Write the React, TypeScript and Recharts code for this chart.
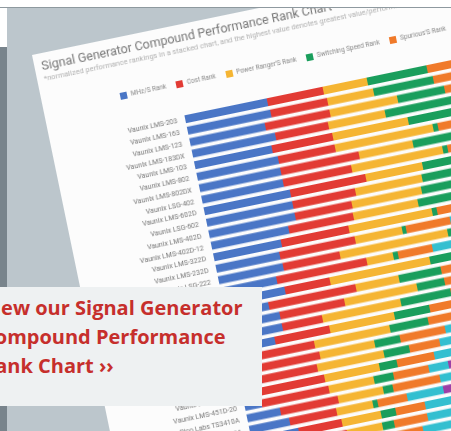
import { BarChart, Bar, XAxis, YAxis, Legend } from 'recharts';

const categories = [
  'Vaunix LMS-203', 'Vaunix LMS-163', 'Vaunix LMS-123', 'Vaunix LMS-183DX',
  'Vaunix LMS-103', 'Vaunix LMS-802', 'Vaunix LMS-802DX', 'Vaunix LSG-402',
  'Vaunix LMS-602D', 'Vaunix LSG-602', 'Vaunix LMS-402D', 'Vaunix LMS-402D-12',
  'Vaunix LMS-322D', 'Vaunix LMS-232D', 'Vaunix LSG-222', 'Vaunix LSG-152',
  'Vaunix LSG-122', 'Vaunix LSG-251', 'Vaunix LSG-451', 'Vaunix LMS-451D',
  'Vaunix LMS-271D', 'Vaunix LMS-163-13', 'Vaunix LMS-103-13', 'Vaunix LMS-123-13',
  'Vaunix LMS-163-20', 'Vaunix LMS-451D-20', 'Pico Labs TS3410A', 'Pico Labs TS3420A',
  'Pico Labs TS3430A', 'Pico Labs TS3440A', 'Pico Labs TS3450A', 'Pico Labs TS3460A',
];

const mhzRank = [8.4, 8.5, 7.7, 8.5, 7.9, 8.3, 8.3, 8.3, 8.8, 8.8, 8.8, 7.9, 6.9, 6.5, 6.6, 5.7, 6.3, 4.4, 5.3, 5.3, 4.3, 2.3, 2.0, 2.2, 1.8, 1.7, 3.4, 4.1, 4.8, 5.5, 4.2, 4.0];
const costRank = [5.7, 5.8, 6.6, 5.4, 6.2, 5.8, 8.0, 7.0, 7.7, 6.4, 5.8, 6.6, 6.9, 7.7, 5.8, 9.2, 4.6, 8.9, 6.6, 4.1, 5.6, 5.8, 6.4, 5.7, 6.6, 6.9, 5.9, 4.8, 4.4, 4.0, 5.0, 4.6];
const powerRank = [4.5, 4.7, 6.9, 5.8, 7.7, 10.0, 5.5, 9.3, 5.8, 6.8, 7.1, 6.6, 8.5, 4.8, 11.0, 2.7, 10.2, 4.4, 7.4, 8.0, 6.6, 7.7, 5.6, 6.8, 5.6, 4.6, 4.6, 3.7, 4.0, 3.6, 3.0, 3.4];
const switchingRank = [6.1, 6.1, 4.8, 7.8, 6.5, 0.5, 5.5, 0.5, 5.5, 5.0, 5.2, 5.0, 0.5, 0.4, 3.0, 0.5, 4.0, 4.3, 2.8, 5.1, 3.6, 3.9, 2.6, 2.6, 1.8, 2.0, 1.0, 0.5, 1.5, 1.2, 2.0, 1.0];
const spuriousRank = [6.0, 5.5, 5.0, 4.0, 4.0, 6.0, 4.0, 5.0, 3.0, 3.0, 3.0, 3.0, 5.0, 4.5, 3.0, 3.5, 3.0, 3.0, 3.0, 3.0, 3.0, 3.3, 4.6, 3.1, 3.8, 3.6, 4.8, 3.0, 3.0, 3.4, 2.8, 3.6];
const phaseRank = [2.8, 3.1, 2.6, 2.9, 3.2, 2.7, 3.0, 2.5, 3.3, 2.9, 3.1, 2.6, 2.8, 3.0, 2.7, 3.2, 2.9, 3.1, 2.6, 2.8, 3.0, 2.7, 2.0, 2.1, 2.0, 2.0, 2.0, 3.7, 3.0, 2.6, 3.2, 2.5];
const sizeRank = [2.2, 2.5, 2.0, 2.4, 2.1, 2.6, 2.3, 2.0, 2.5, 2.2, 2.4, 2.1, 2.6, 2.3, 2.0, 2.4, 2.2, 2.5, 2.1, 2.3, 2.6, 2.0, 2.4, 2.2, 1.5, 1.0, 1.0, 2.0, 2.0, 2.5, 2.8, 3.0];

const series = [
  { key: 'mhz', name: 'MHz/S Rank', color: '#4a76c6' },
  { key: 'cost', name: 'Cost Rank', color: '#e23b34' },
  { key: 'power', name: "Power Ranger'S Rank", color: '#f5b533' },
  { key: 'switching', name: 'Switching Speed Rank', color: '#1a9e5c' },
  { key: 'spurious', name: "Spurious'S Rank", color: '#f07a2a' },
  { key: 'phase', name: 'Phase Noise Rank', color: '#33bfd0' },
  { key: 'size', name: 'Size Rank', color: '#9c3fa6' },
];

const data = categories.map((name, i) => ({
  name,
  mhz: mhzRank[i],
  cost: costRank[i],
  power: powerRank[i],
  switching: switchingRank[i],
  spurious: spuriousRank[i],
  phase: phaseRank[i],
  size: sizeRank[i],
}));

const NameTick = ({ x, y, payload }: any) => (
  <text x={x} y={y} dy={2.5} textAnchor="end" fontSize={7} fill="#777">
    {payload.value}
  </text>
);

export default function App() {
  return (
    <div style={{ position: 'absolute', left: 0, top: 0, width: 451, height: 431, overflow: 'hidden', background: '#fff' }}>
      {/* backdrop panel */}
      <div style={{ position: 'absolute', left: 7, top: 7, width: 444, height: 424, background: '#bcc6cc' }} />
      <div style={{ position: 'absolute', left: 0, top: 47, width: 7, height: 384, background: '#78848c' }} />

      {/* the tilted chart card */}
      <div
        style={{
          position: 'absolute',
          left: 32,
          top: 55,
          width: 640,
          height: 520,
          background: '#fcfcfc',
          transform: 'rotate(-11.7deg)',
          transformOrigin: '0 0',
          fontFamily: 'Roboto, sans-serif',
          filter: 'blur(0.4px)',
        }}
      >
        <div style={{ position: 'absolute', left: 7, top: 6, fontSize: 12.5, lineHeight: '14px', color: '#777', whiteSpace: 'nowrap' }}>
          Signal Generator Compound Performance Rank Chart
        </div>
        <div style={{ position: 'absolute', left: 7, top: 21, fontSize: 7.5, lineHeight: '9px', color: '#b0b0b0', whiteSpace: 'nowrap' }}>
          *normalized performance rankings in a stacked chart, and the highest value denotes greatest value/performance
        </div>
        <div style={{ position: 'absolute', left: 0, top: 0 }}>
          <BarChart
            width={640}
            height={480}
            data={data}
            layout="vertical"
            margin={{ top: 88, right: 3, bottom: 16, left: 7 }}
          >
            <XAxis type="number" hide domain={[0, 50]} />
            <YAxis
              type="category"
              dataKey="name"
              width={130}
              axisLine={false}
              tickLine={false}
              interval={0}
              tick={<NameTick />}
            />
            <Legend
              layout="horizontal"
              align="center"
              verticalAlign="middle"
              iconType="square"
              iconSize={7}
              itemSorter={(item: any) => series.findIndex((s) => s.name === item.value)}
              wrapperStyle={{ top: 53, left: 78, width: 'max-content', fontSize: 6.5, lineHeight: '10px' }}
              formatter={(value) => <span style={{ color: '#888' }}>{value}</span>}
            />
            {series.map((s) => (
              <Bar key={s.key} dataKey={s.key} name={s.name} stackId="rank" fill={s.color} barSize={8} isAnimationActive={false} />
            ))}
          </BarChart>
        </div>
      </div>

      {/* top strip */}
      <div style={{ position: 'absolute', left: 0, top: 0, width: 451, height: 7, background: '#fff', borderBottom: '1px solid #8e999f' }} />
      <div style={{ position: 'absolute', left: 0, top: 8, width: 7, height: 39, background: '#fff' }} />

      {/* call-to-action box */}
      <div style={{ position: 'absolute', left: 0, top: 287, width: 262, height: 119, background: '#eef1f2', overflow: 'hidden' }}>
        <div
          style={{
            position: 'absolute',
            left: -18,
            top: 6,
            fontFamily: '"Open Sans", sans-serif',
            fontWeight: 700,
            fontSize: 20,
            lineHeight: '29px',
            color: '#c62f2c',
            whiteSpace: 'nowrap',
          }}
        >
          <div>View our Signal Generator</div>
          <div>Compound Performance</div>
          <div>Rank Chart ››</div>
        </div>
      </div>
    </div>
  );
}
